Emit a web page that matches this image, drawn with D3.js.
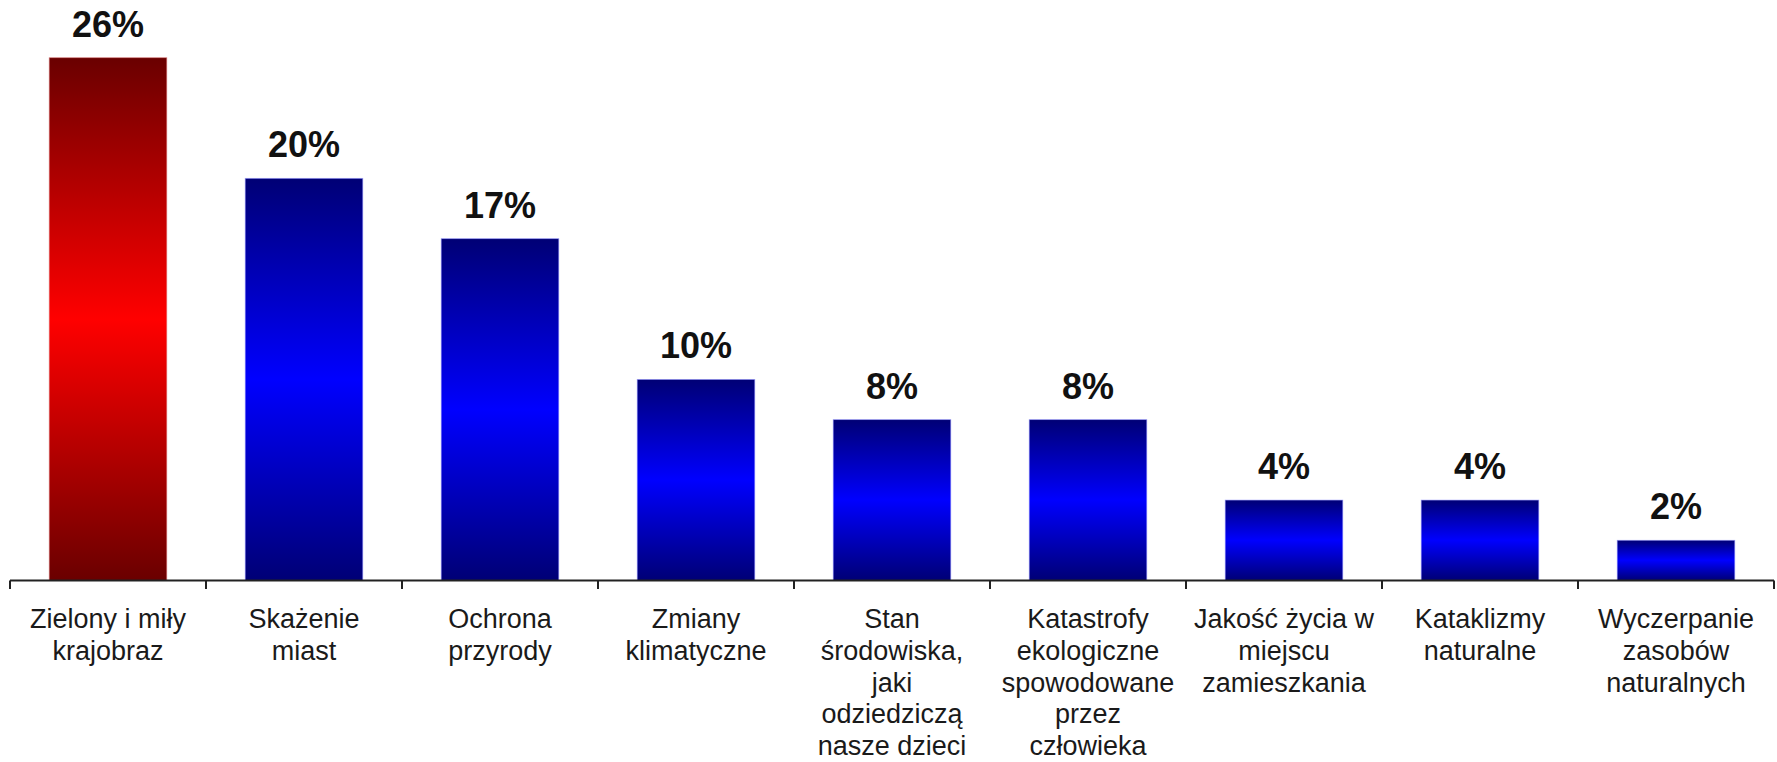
<!DOCTYPE html>
<html>
<head>
<meta charset="utf-8">
<script src="https://cdn.jsdelivr.net/npm/d3@7"></script>
<style>
  html, body { margin: 0; padding: 0; background: #fff; }
  svg { display: block; }
</style>
</head>
<body>
<svg id="chart" width="1777" height="762"></svg>
<script>
const categories = [
  ["Zielony i miły", "krajobraz"],
  ["Skażenie", "miast"],
  ["Ochrona", "przyrody"],
  ["Zmiany", "klimatyczne"],
  ["Stan", "środowiska,", "jaki", "odziedziczą", "nasze dzieci"],
  ["Katastrofy", "ekologiczne", "spowodowane", "przez", "człowieka"],
  ["Jakość życia w", "miejscu", "zamieszkania"],
  ["Kataklizmy", "naturalne"],
  ["Wyczerpanie", "zasobów", "naturalnych"]
];
const values = [26, 20, 17, 10, 8, 8, 4, 4, 2];
const valueLabels = ["26%", "20%", "17%", "10%", "8%", "8%", "4%", "4%", "2%"];
const highlight = [true, false, false, false, false, false, false, false, false];

const svg = d3.select("#chart");
const left = 10, right = 1774, baseY = 580.5, topY = 57.7;

const x = d3.scaleBand()
  .domain(d3.range(values.length))
  .range([left, right])
  .paddingInner(0.4)
  .paddingOuter(0.2);

const y = d3.scaleLinear().domain([0, 26]).range([baseY, topY]);

const defs = svg.append("defs");
function grad(id, dark, bright) {
  const g = defs.append("linearGradient").attr("id", id)
    .attr("x1", 0).attr("y1", 0).attr("x2", 0).attr("y2", 1);
  g.append("stop").attr("offset", "0%").attr("stop-color", dark);
  g.append("stop").attr("offset", "50%").attr("stop-color", bright);
  g.append("stop").attr("offset", "100%").attr("stop-color", dark);
}
grad("gRed", "#6a0000", "#ff0000");
grad("gBlue", "#000075", "#0000ff");

svg.append("g").selectAll("rect")
  .data(values)
  .join("rect")
  .attr("x", (d, i) => x(i))
  .attr("y", d => y(d))
  .attr("width", x.bandwidth())
  .attr("height", d => baseY - y(d))
  .attr("fill", (d, i) => highlight[i] ? "url(#gRed)" : "url(#gBlue)")
  .attr("stroke", (d, i) => highlight[i] ? "#e08080" : "#9a9aff")
  .attr("stroke-width", 0.8)
  .attr("stroke-opacity", 0.7);

svg.append("g").selectAll("text")
  .data(values)
  .join("text")
  .attr("x", (d, i) => x(i) + x.bandwidth() / 2)
  .attr("y", d => y(d) - 21)
  .attr("text-anchor", "middle")
  .attr("font-family", "Liberation Sans, Arial, sans-serif")
  .attr("font-weight", "bold")
  .attr("font-size", 36)
  .attr("fill", "#111")
  .text((d, i) => valueLabels[i]);

// axis with ticks at band boundaries
const axisG = svg.append("g");
axisG.append("line")
  .attr("x1", left).attr("x2", right)
  .attr("y1", baseY).attr("y2", baseY)
  .attr("stroke", "#222").attr("stroke-width", 2);
const boundaries = d3.range(values.length + 1).map(i => left + i * (right - left) / values.length);
axisG.selectAll("line.tick")
  .data(boundaries)
  .join("line")
  .attr("class", "tick")
  .attr("x1", d => d).attr("x2", d => d)
  .attr("y1", baseY).attr("y2", baseY + 8.5)
  .attr("stroke", "#222").attr("stroke-width", 2);

const lab = svg.append("g").selectAll("text")
  .data(categories)
  .join("text")
  .attr("text-anchor", "middle")
  .attr("font-family", "Liberation Sans, Arial, sans-serif")
  .attr("font-size", 27)
  .attr("fill", "#1a1a1a");
lab.each(function(lines, i) {
  const cx = x(i) + x.bandwidth() / 2;
  d3.select(this).selectAll("tspan")
    .data(lines)
    .join("tspan")
    .attr("x", cx)
    .attr("y", (l, j) => 628 + j * 31.8)
    .text(l => l);
});
</script>
</body>
</html>
